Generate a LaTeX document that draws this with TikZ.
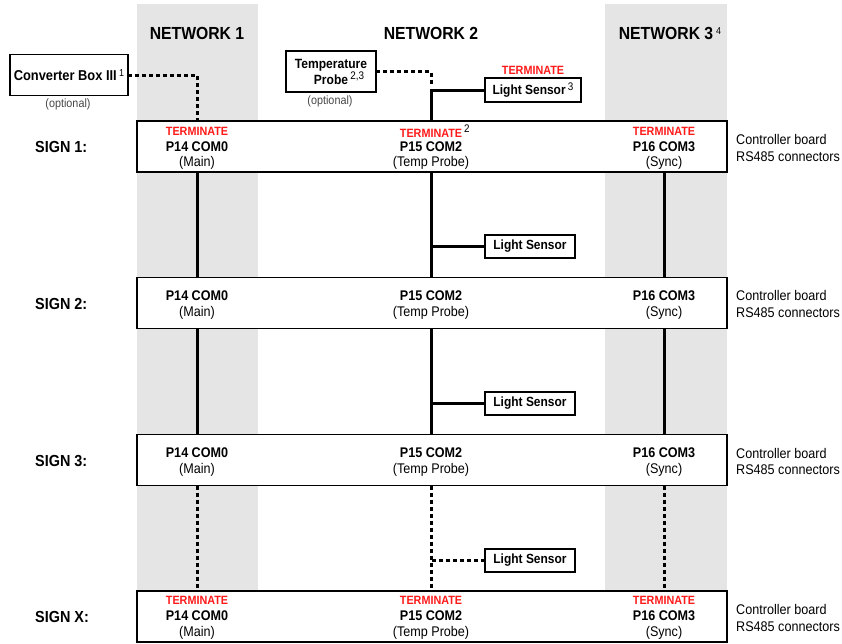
\documentclass[tikz,border=0pt]{standalone}
\usepackage{fontspec}
\setmainfont[FakeStretch=0.9]{Liberation Sans}
\definecolor{netgray}{HTML}{E5E5E5}
\definecolor{termred}{HTML}{FF1A1A}
\definecolor{optgray}{HTML}{444444}
\newcommand{\mysup}[1]{\raisebox{4.5pt}{\fontsize{11}{11}\selectfont\mdseries #1}}
\begin{document}
\begin{tikzpicture}[x=1pt,y=-1pt,
  hdr/.style={font=\bfseries\fontsize{17.5}{20}\selectfont, inner sep=0pt},
  signlbl/.style={font=\bfseries\fontsize{16}{18}\selectfont, inner sep=0pt, anchor=west},
  port/.style={font=\bfseries\fontsize{14}{16}\selectfont, inner sep=0pt},
  sub/.style={font=\fontsize{14}{16}\selectfont, inner sep=0pt},
  term/.style={font=\bfseries\fontsize{12}{14}\selectfont, text=termred, inner sep=0pt},
  ctrl/.style={font=\fontsize{14}{16.5}\selectfont, inner sep=0pt, anchor=west, align=left},
  optl/.style={font=\fontsize{12}{14}\selectfont, text=optgray, inner sep=0pt},
  signbox/.style={draw, line width=1.2pt, fill=white, minimum width=590pt, minimum height=51pt, outer sep=0pt},
  sensor/.style={draw, line width=1.4pt, fill=white, font=\bfseries\fontsize{13.3}{15}\selectfont, minimum width=90pt, minimum height=23pt, inner sep=0pt, outer sep=0pt},
  extbox/.style={draw, line width=1.3pt, fill=white, inner sep=0pt, outer sep=0pt},
  wire/.style={line width=3pt},
  dotwire/.style={line width=3pt, dash pattern=on 4pt off 3pt}
]
\useasboundingbox (0,0) rectangle (842,643);
% network columns
\fill[netgray] (137,4) rectangle (258,643);
\fill[netgray] (605,4) rectangle (727,643);
\coordinate (c1) at (197,0);
\coordinate (c2) at (431,0);
\coordinate (c3) at (664,0);
% headers
\node[hdr] (n1) at (197,33) {NETWORK 1};
\node[hdr] (n2) at (431,33) {NETWORK 2};
\node[hdr] (n3) at (666,33) {NETWORK 3\rlap{\,\raisebox{5pt}{\fontsize{10}{10}\selectfont\mdseries 4}}};
% external devices
\node[extbox, minimum width=118pt, minimum height=41pt, font=\bfseries\fontsize{14.3}{16}\selectfont] (cb) at (69,75) {Converter Box III\,\raisebox{4.5pt}{\fontsize{10}{10}\selectfont\mdseries 1}};
\node[optl] (cbopt) at (68,104) {(optional)};
\node[extbox, minimum width=90pt, minimum height=41pt, align=center, font=\bfseries\fontsize{13.4}{16}\selectfont] (tp) at (331,71.5) {Temperature\\Probe\rlap{\,\mysup{2,3}}};
\node[optl] (tpopt) at (330,101) {(optional)};
\node[sensor, minimum width=96pt, minimum height=24pt] (ls1) at (533,90) {Light Sensor\,\mysup{3}};
\node[term] (ls1t) at (533,70) {TERMINATE};
% sign boxes
\node[signbox] (s1) at (432,146.5) {};
\node[signbox] (s2) at (432,303) {};
\node[signbox] (s3) at (432,460) {};
\node[signbox] (sx) at (432,616.5) {};
% sign labels
\node[signlbl] (l1) at (35,147) {SIGN 1:};
\node[signlbl] (l2) at (35,303.5) {SIGN 2:};
\node[signlbl] (l3) at (35,460.5) {SIGN 3:};
\node[signlbl] (lx) at (35,617) {SIGN X:};
% controller board labels
\node[ctrl] (r1) at (736,148) {Controller board\\RS485 connectors};
\node[ctrl] (r2) at (736,304) {Controller board\\RS485 connectors};
\node[ctrl] (r3) at (736,461.5) {Controller board\\RS485 connectors};
\node[ctrl] (rx) at (736,618) {Controller board\\RS485 connectors};
% sign 1 ports
\node[term] (s1t1) at (197,131) {TERMINATE};
\node[term] (s1t2) at (431,131) {TERMINATE\rlap{\,\color{black}\mysup{2}}};
\node[term] (s1t3) at (664,131) {TERMINATE};
\node[port] (s1p1) at (197,146.5) {P14 COM0};
\node[port] (s1p2) at (431,146.5) {P15 COM2};
\node[port] (s1p3) at (664,146.5) {P16 COM3};
\node[sub] (s1s1) at (197,163) {(Main)};
\node[sub] (s1s2) at (431,163) {(Temp Probe)};
\node[sub] (s1s3) at (664,163) {(Sync)};
% sign 2 ports
\node[port] (s2p1) at (197,296) {P14 COM0};
\node[port] (s2p2) at (431,296) {P15 COM2};
\node[port] (s2p3) at (664,296) {P16 COM3};
\node[sub] (s2s1) at (197,313) {(Main)};
\node[sub] (s2s2) at (431,313) {(Temp Probe)};
\node[sub] (s2s3) at (664,313) {(Sync)};
% sign 3 ports
\node[port] (s3p1) at (197,453) {P14 COM0};
\node[port] (s3p2) at (431,453) {P15 COM2};
\node[port] (s3p3) at (664,453) {P16 COM3};
\node[sub] (s3s1) at (197,470) {(Main)};
\node[sub] (s3s2) at (431,470) {(Temp Probe)};
\node[sub] (s3s3) at (664,470) {(Sync)};
% sign X ports
\node[term] (sxt1) at (197,600.5) {TERMINATE};
\node[term] (sxt2) at (431,600.5) {TERMINATE};
\node[term] (sxt3) at (664,600.5) {TERMINATE};
\node[port] (sxp1) at (197,616) {P14 COM0};
\node[port] (sxp2) at (431,616) {P15 COM2};
\node[port] (sxp3) at (664,616) {P16 COM3};
\node[sub] (sxs1) at (197,633) {(Main)};
\node[sub] (sxs2) at (431,633) {(Temp Probe)};
\node[sub] (sxs3) at (664,633) {(Sync)};
% light sensors along network 2
\node[sensor] (ls2) at (530,246.5) {Light Sensor};
\node[sensor] (ls3) at (530,403.5) {Light Sensor};
\node[sensor] (lsx) at (530,560.5) {Light Sensor};
% connectors: top
\draw[dotwire] (cb.east) -- (cb.east -| c1) -- (s1.north -| c1);
\draw[dotwire] (tp.east) -- (tp.east -| c2) -- ++(0,13);
\draw[wire] (ls1.west) -- (ls1.west -| c2) -- (s1.north -| c2);
% sign 1 -> sign 2
\draw[wire] (s1.south -| c1) -- (s2.north -| c1);
\draw[wire] (s1.south -| c2) -- (s2.north -| c2);
\draw[wire] (s1.south -| c3) -- (s2.north -| c3);
\draw[wire] (ls2.west) -- (ls2.west -| c2);
% sign 2 -> sign 3
\draw[wire] (s2.south -| c1) -- (s3.north -| c1);
\draw[wire] (s2.south -| c2) -- (s3.north -| c2);
\draw[wire] (s2.south -| c3) -- (s3.north -| c3);
\draw[wire] (ls3.west) -- (ls3.west -| c2);
% sign 3 -> sign X
\draw[dotwire] (s3.south -| c1) -- (sx.north -| c1);
\draw[dotwire] (s3.south -| c2) -- (sx.north -| c2);
\draw[dotwire] (s3.south -| c3) -- (sx.north -| c3);
\draw[dotwire] (lsx.west) -- (lsx.west -| c2);
\end{tikzpicture}
\end{document}
